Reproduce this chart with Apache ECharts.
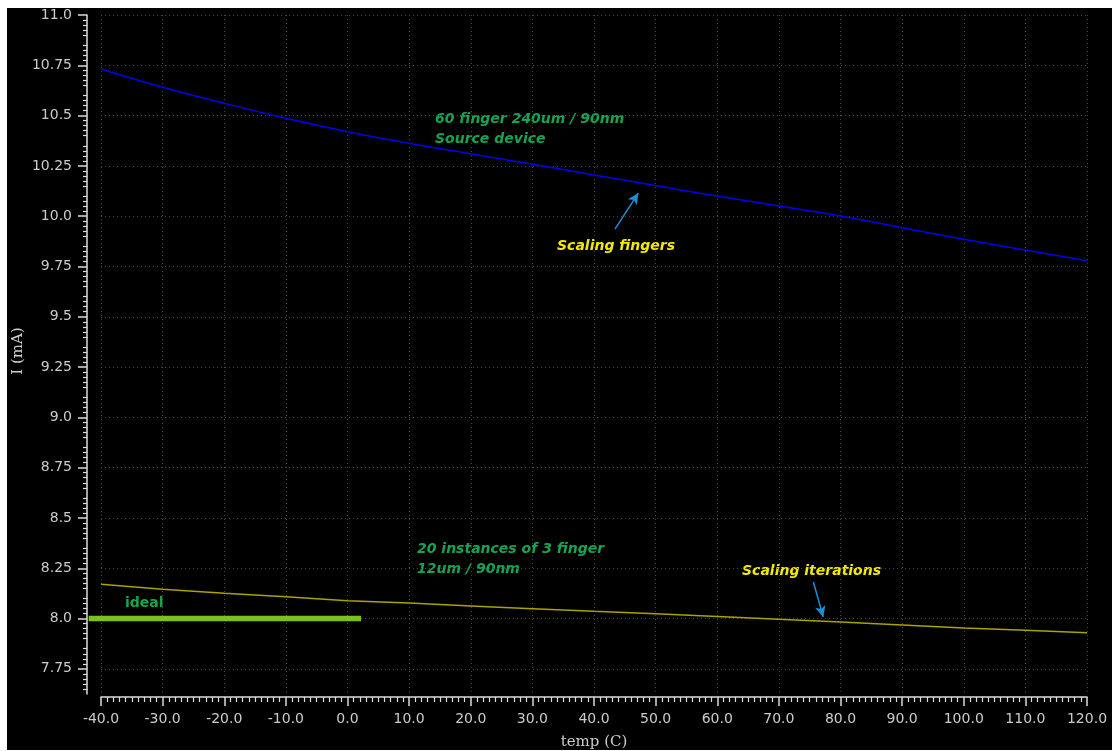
<!DOCTYPE html>
<html><head><meta charset="utf-8">
<script src="https://cdn.jsdelivr.net/npm/echarts@6/dist/echarts.min.js"></script>
<style>
html,body{margin:0;padding:0;background:#fff;width:1112px;height:751px;overflow:hidden}
#c{position:absolute;left:7px;top:8px;width:1105px;height:742px;background:#000}
</style>
</head><body><div id="c"></div>
<script>
// ---- data ----
const temps = [-40,-30,-20,-10,0,10,20,30,40,50,60,70,80,90,100,110,120];
const sourceDevice = [10.732,10.641,10.561,10.487,10.420,10.362,10.310,10.258,10.205,10.152,10.100,10.051,10.001,9.943,9.885,9.832,9.779];
const scaledInstances = [8.170,8.146,8.126,8.108,8.089,8.077,8.063,8.049,8.036,8.024,8.010,7.997,7.983,7.968,7.953,7.942,7.930];
const idealTemps = [-42, 2.2];
const idealCurrent = [8.0, 8.0];
const yTicks = [7.75,8.0,8.25,8.5,8.75,9.0,9.25,9.5,9.75,10.0,10.25,10.5,10.75,11.0];
const yTickLabels = ['7.75','8.0','8.25','8.5','8.75','9.0','9.25','9.5','9.75','10.0','10.25','10.5','10.75','11.0'];
const xTickLabels = ['-40.0','-30.0','-20.0','-10.0','0.0','10.0','20.0','30.0','40.0','50.0','60.0','70.0','80.0','90.0','100.0','110.0','120.0'];
const arrowFingers = [[43.4, 9.936],[47.2, 10.115]];
const arrowIterations = [[75.6, 8.182],[77.2, 8.008]];

const chart = echarts.init(document.getElementById('c'), null, {renderer:'canvas'});
const gridColor = '#454545';
const axisColor = '#dcdcdc';
const labelColor = '#cccccc';
const greenText = '#17a452';
const yellowText = '#f2ea00';
const annFont = 'bold italic 14px "DejaVu Sans"';

const X_MIN = -40, X_MAX = 120, Y_MIN = 7.625, Y_MAX = 11.0;
const G_LEFT = 94, G_RIGHT = 25, G_TOP = 7, G_BOTTOM = 56, DIV_W = 1105;
// second (overlay) grid with identical scale, widened so the ideal bar may start left of -40
const pxPerUnit = (DIV_W - G_LEFT - G_RIGHT) / (X_MAX - X_MIN);
const X2_MIN = Math.min(X_MIN, idealTemps[0]);
const G2_LEFT = G_LEFT - (X_MIN - X2_MIN) * pxPerUnit;

function zip(a,b){return a.map((v,i)=>[v,b[i]]);}

const option = {
  backgroundColor: '#000',
  animation: false,
  grid: [
    {left: G_LEFT, right: G_RIGHT, top: G_TOP, bottom: G_BOTTOM, containLabel: false},
    {left: G2_LEFT, right: G_RIGHT, top: G_TOP, bottom: G_BOTTOM, containLabel: false}
  ],
  xAxis: [{
    type: 'value', min: X_MIN, max: X_MAX, interval: 10,
    offset: 3,
    axisLine: {show: true, onZero: false, lineStyle: {color: axisColor, width: 1.5}},
    axisTick: {show: true, length: 9, lineStyle: {color: axisColor, width: 1.5}},
    minorTick: {show: true, splitNumber: 10, length: 5, lineStyle: {color: axisColor, width: 1.2}},
    axisLabel: {color: labelColor, fontFamily: 'DejaVu Sans', fontSize: 14, margin: 15,
      showMinLabel: true, showMaxLabel: true, hideOverlap: false,
      formatter: v => { const i = temps.indexOf(v); return i >= 0 ? xTickLabels[i] : ''; }},
    splitLine: {show: true, lineStyle: {color: gridColor, type: [1,3], width: 1}}
  }, {
    type: 'value', gridIndex: 1, min: X2_MIN, max: X_MAX, show: false
  }],
  yAxis: [{
    type: 'value', min: Y_MIN, max: Y_MAX, interval: 0.125,
    offset: 14,
    axisLine: {show: true, onZero: false, lineStyle: {color: axisColor, width: 1.5}},
    axisTick: {show: true, length: 9, customValues: yTicks, lineStyle: {color: axisColor, width: 1.5}},
    minorTick: {show: true, splitNumber: 5, length: 4, lineStyle: {color: axisColor, width: 1.2}},
    axisLabel: {color: labelColor, fontFamily: 'DejaVu Sans', fontSize: 14, margin: 15,
      customValues: yTicks, showMinLabel: true, showMaxLabel: true, hideOverlap: false,
      formatter: v => { const i = yTicks.findIndex(t => Math.abs(t - v) < 1e-6); return i >= 0 ? yTickLabels[i] : ''; }},
    splitLine: {show: true, lineStyle: {color: gridColor, type: [1,3], width: 1}}
  }, {
    type: 'value', gridIndex: 1, min: Y_MIN, max: Y_MAX, show: false
  }],
  graphic: [
    {type:'text', left: 428, top: 104, style:{text:'60 finger 240um / 90nm', fill: greenText, font: annFont}},
    {type:'text', left: 428, top: 124, style:{text:'Source device', fill: greenText, font: annFont}},
    {type:'text', left: 550, top: 231, style:{text:'Scaling fingers', fill: yellowText, font: annFont}},
    {type:'text', left: 410, top: 534, style:{text:'20 instances of 3 finger', fill: greenText, font: annFont}},
    {type:'text', left: 410, top: 554, style:{text:'12um / 90nm', fill: greenText, font: annFont}},
    {type:'text', left: 735, top: 556, style:{text:'Scaling iterations', fill: yellowText, font: annFont}},
    {type:'text', left: 118, top: 588, style:{text:'ideal', fill: '#12a84a', font: 'bold 14px "DejaVu Sans"'}},
    {type:'text', x: 11, y: 343, rotation: Math.PI/2, style:{text:'I (mA)', fill: labelColor, font: '15px "DejaVu Serif"', align:'center', verticalAlign:'middle'}},
    {type:'text', x: 587, y: 734, style:{text:'temp (C)', fill: labelColor, font: '15px "DejaVu Serif"', align:'center', verticalAlign:'middle'}}
  ],
  series: [
    {
      name: 'source', type: 'line', data: zip(temps, sourceDevice), smooth: true,
      showSymbol: false, lineStyle: {color: '#0000f0', width: 1.5},
      markLine: {
        silent: true, symbol: ['none','arrow'], symbolSize: [8,11],
        lineStyle: {color: '#1a8fd6', width: 1.5, type: 'solid'}, label: {show: false},
        data: [
          [{coord: arrowFingers[0]}, {coord: arrowFingers[1]}],
          [{coord: arrowIterations[0]}, {coord: arrowIterations[1]}]
        ]
      }
    },
    {
      name: 'instances', type: 'line', data: zip(temps, scaledInstances),
      showSymbol: false, lineStyle: {color: '#aaa200', width: 1.5}
    },
    {
      name: 'ideal', type: 'line', xAxisIndex: 1, yAxisIndex: 1,
      data: zip(idealTemps, idealCurrent),
      showSymbol: false, lineStyle: {color: '#7cc21e', width: 5.5, cap: 'butt'},
      z: 3
    }
  ]
};
chart.setOption(option);
</script>
</body></html>
